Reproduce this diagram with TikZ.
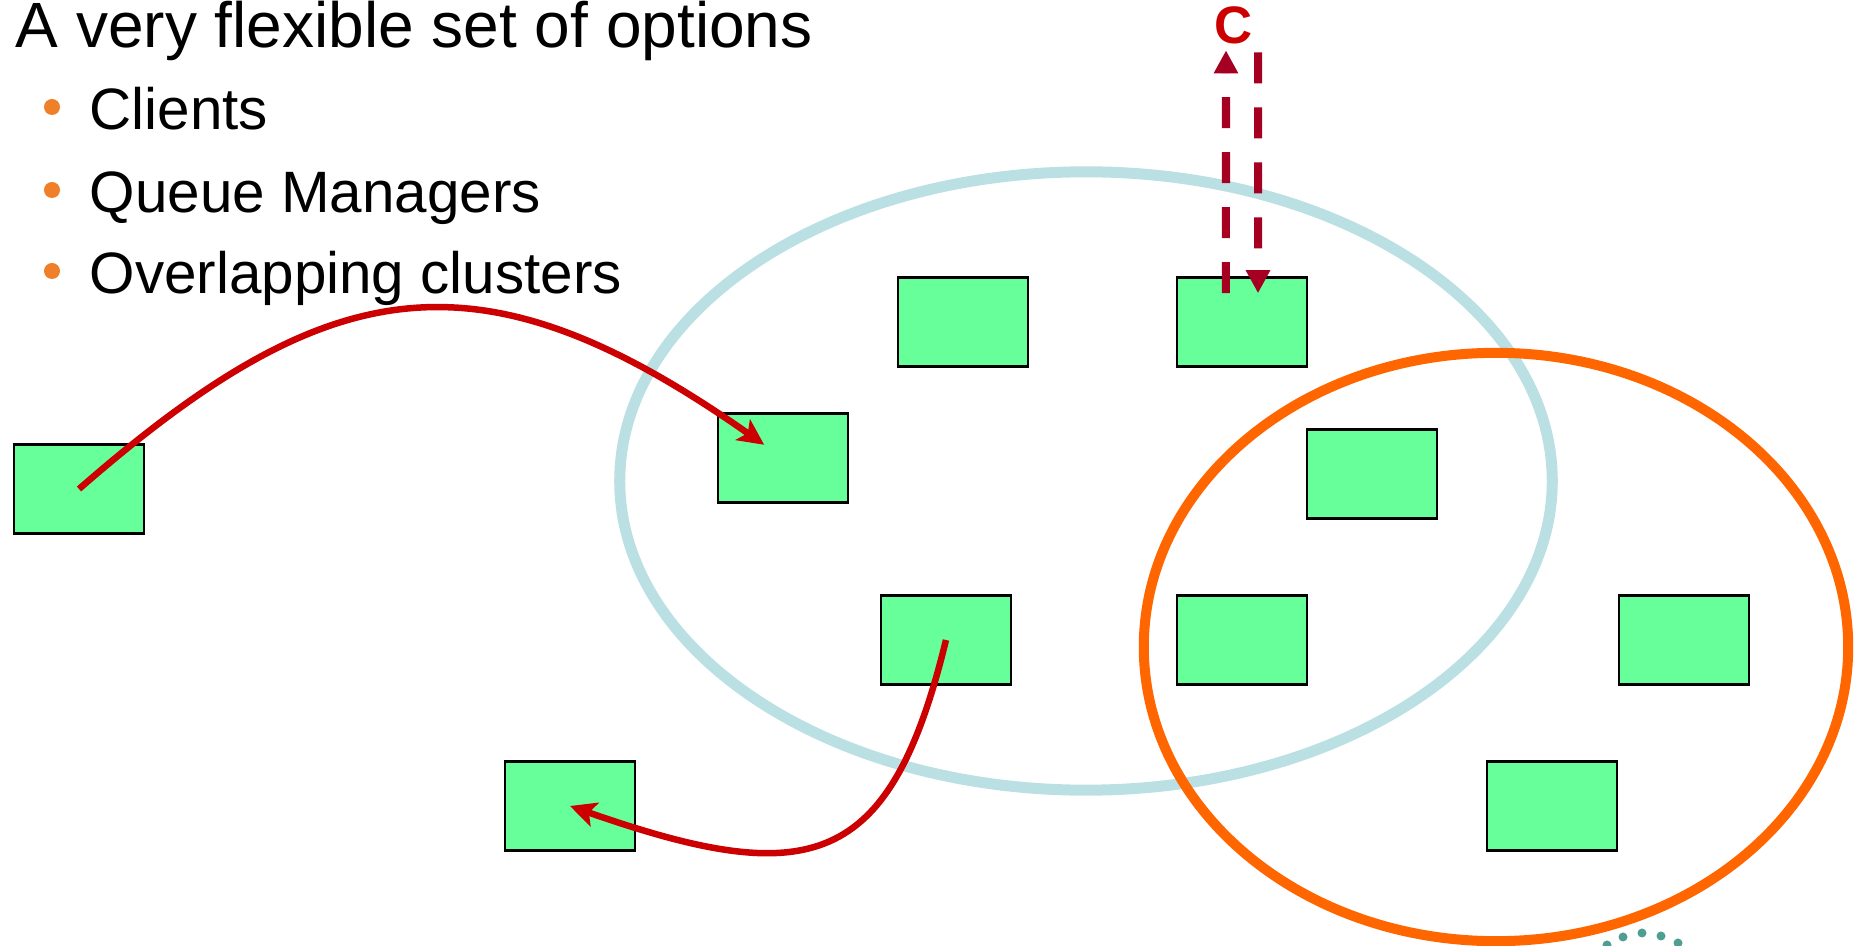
\documentclass[tikz,border=0pt]{standalone}
\usepackage{fontspec}
\setmainfont{Liberation Sans}
\usepackage{tikz}
\usetikzlibrary{arrows.meta}
\definecolor{qmgreen}{HTML}{66FF99}
\definecolor{clusterblue}{HTML}{BBE0E3}
\definecolor{clusterorange}{HTML}{FF6600}
\definecolor{flowred}{HTML}{CC0000}
\definecolor{reqred}{HTML}{A50021}
\definecolor{bulletorange}{HTML}{F07F2A}
\definecolor{logoteal}{HTML}{4E9E93}

\begin{document}
\begin{tikzpicture}[x=0.01cm, y=-0.01cm,
        qm/.style={draw=black, line width=0.025cm, fill=qmgreen, minimum width=1.3cm, minimum height=0.89cm, inner sep=0pt},
        flow/.style={-{Stealth[length=0.26cm, width=0.25cm, inset=0.06cm]}, line width=0.065cm, flowred},
        req/.style={-{Triangle[length=0.23cm, width=0.23cm]}, line width=0.08cm, reqred, dash pattern=on 0.31cm off 0.24cm},
        item/.style={anchor=base west, inner sep=0pt, font=\fontsize{16.6pt}{19pt}\selectfont}]
        \useasboundingbox (0,0) rectangle (1859,946);
        \node[anchor=base west, inner sep=0pt, font=\fontsize{18.2pt}{21pt}\selectfont] (title) at (15,48) {A very flexible set of options};
        \foreach \y/\txt [count=\i] in {130/Clients, 213/Queue Managers, 294/Overlapping clusters} {
            \fill[bulletorange] (52,\y-23) circle (0.08cm);
            \node[item] (item\i) at (89,\y) {\txt};
        }
        \draw[clusterblue, line width=0.11cm] (1086,481) ellipse [x radius=4.66cm, y radius=3.09cm];
        \draw[clusterorange, line width=0.1cm] (1496,647) ellipse [x radius=3.52cm, y radius=2.94cm];
        \node[qm] (client1) at (79,489) {};
        \node[qm] (client2) at (570,806) {};
        \node[qm] (qm1) at (783,458) {};
        \node[qm] (qm2) at (963,322) {};
        \node[qm] (qm3) at (1242,322) {};
        \node[qm] (qm4) at (1372,474) {};
        \node[qm] (qm5) at (946,640) {};
        \node[qm] (qm6) at (1242,640) {};
        \node[qm] (qm7) at (1684,640) {};
        \node[qm] (qm8) at (1552,806) {};
        \node[inner sep=0pt, text=flowred, font=\fontsize{15pt}{17pt}\selectfont\bfseries] (svc) at (1234,25) {C};
        \draw[flow, shorten >=0.23cm] (client1.center) .. controls (330,270) and (480,245) .. (qm1.center);
        \draw[flow] (qm5.center) .. controls (890,870) and (810,890) .. (client2.center);
        \draw[req] ([xshift=-0.16cm, yshift=-0.17cm]qm3.north) -- ([xshift=-0.08cm, yshift=-0.06cm]svc.south);
        \draw[req] ([xshift=0.24cm, yshift=-0.08cm]svc.south) -- ([xshift=0.16cm, yshift=-0.17cm]qm3.north);
        \foreach \x/\y in {1607/945, 1623/937, 1642/933, 1661/936, 1678/943}
            \fill[logoteal] (\x,\y) circle (0.045cm);
    \end{tikzpicture}
\end{document}
